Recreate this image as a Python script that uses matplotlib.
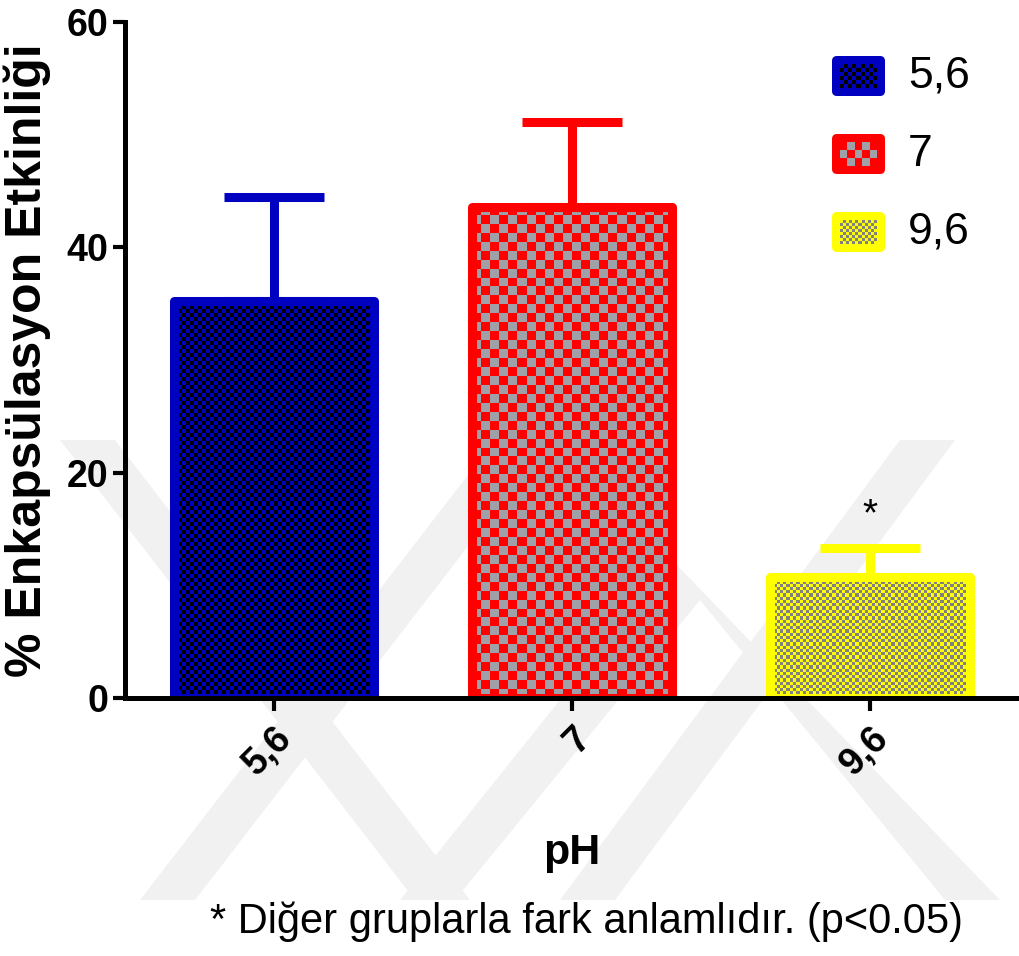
import numpy as np
import matplotlib
matplotlib.use('Agg')
from matplotlib import pyplot as plt
from matplotlib.patches import Rectangle, FancyBboxPatch, Polygon

# data
groups = ['5,6', '7', '9,6']
means = [35.2, 43.6, 10.7]
sems = [9.3, 7.5, 2.6]
edge_cols = ['#0000C0', '#FF0000', '#FFFF00']
cell_cols = ['#000000', '#A0A0A8', '#808080']
cell_px = [4.0, 9.0, 3.3]
y_ticks = [0, 20, 40, 60]
ylab = '% Enkapsülasyon Etkinliği'
xlab = 'pH'
note = '* Diğer gruplarla fark anlamlıdır. (p<0.05)'

W, H = 1019, 956
plt.rcParams['font.family'] = ['Liberation Sans', 'DejaVu Sans']
fig = plt.figure(figsize=(W / 100, H / 100), dpi=100)

# faint watermark bands behind everything (pixel coords)
bands = [
    [(60, 440), (115, 440), (470, 900), (415, 900)],
    [(140, 900), (195, 900), (550, 440), (495, 440)],
    [(400, 900), (455, 900), (700, 600), (672, 560)],
    [(672, 560), (700, 600), (945, 900), (1000, 900)],
    [(560, 900), (615, 900), (955, 440), (900, 440)],
]
for b in bands:
    fig.patches.append(Polygon([(x / W, 1 - y / H) for x, y in b], closed=True,
                               transform=fig.transFigure, fc='#F1F1F1', ec='none', zorder=-10))

ax = fig.add_axes([125 / W, 1 - 698 / H, (W - 125) / W, 676 / H])
ax.patch.set_alpha(0)

x = np.arange(len(groups))
bw = 0.67
px_x = (W - 125) / 3.0
px_y = 676 / 60.0


def checker(c1, c2, nr, nc):
    a = np.zeros((nr, nc, 3))
    m = (np.add.outer(np.arange(nr), np.arange(nc)) % 2) == 0
    a[m] = matplotlib.colors.to_rgb(c1)
    a[~m] = matplotlib.colors.to_rgb(c2)
    return a


for i in range(len(groups)):
    ax.errorbar(x[i], means[i], yerr=[[0], [sems[i]]], fmt='none', ecolor=edge_cols[i],
                elinewidth=6.5, capsize=36, capthick=6.5, zorder=2)
    r = Rectangle((x[i] - bw / 2, 0), bw, means[i], fc='none', ec=edge_cols[i], lw=6.5,
                  joinstyle='round', zorder=4)
    nc = int(round(bw * px_x / cell_px[i]))
    nr = max(1, int(round(means[i] * px_y / cell_px[i])))
    im = ax.imshow(checker(edge_cols[i], cell_cols[i], nr, nc),
                   extent=(x[i] - bw / 2, x[i] + bw / 2, 0, means[i]),
                   aspect='auto', interpolation='nearest', zorder=3)
    ax.add_patch(r)
    im.set_clip_path(r)

ax.annotate('*', (x[2], means[2] + sems[2]), xytext=(0, 24), textcoords='offset points',
            ha='center', va='center', fontsize=28)

ax.set_xlim(-0.5, 2.5)
ax.set_ylim(0, 60)
ax.set_yticks(y_ticks)
ax.set_xticks(x)
ax.set_xticklabels(groups, rotation=45, ha='right', rotation_mode='anchor')
for s in ['top', 'right']:
    ax.spines[s].set_visible(False)
for s in ['left', 'bottom']:
    ax.spines[s].set_linewidth(3.6)
    ax.spines[s].set_zorder(5)
ax.tick_params(axis='both', length=9, width=3, labelsize=27)
ax.tick_params(axis='y', pad=3)
ax.tick_params(axis='x', pad=7)
for t in ax.get_xticklabels() + ax.get_yticklabels():
    t.set_fontweight('bold')

ax.set_ylabel(ylab, fontsize=36, fontweight='bold', labelpad=11)
ax.set_xlabel(xlab, fontsize=31, fontweight='bold', labelpad=36)

# legend swatches
leg_y = [76, 154, 232]
leg_cells = [4.0, 7.5, 3.0]
for i in range(len(groups)):
    la = fig.add_axes([830 / W, 1 - (leg_y[i] + 22) / H, 57 / W, 44 / H])
    la.axis('off')
    la.add_patch(FancyBboxPatch((2, 2), 53, 40, boxstyle='round,pad=0,rounding_size=5',
                                fc=edge_cols[i], ec='none', zorder=1))
    nc = int(round(37 / leg_cells[i]))
    nr = int(round(24 / leg_cells[i]))
    la.imshow(checker(edge_cols[i], cell_cols[i], nr, nc), extent=(10, 47, 10, 34),
              aspect='auto', interpolation='nearest', zorder=2)
    la.set_xlim(0, 57)
    la.set_ylim(0, 44)
    fig.text(908 / W, 1 - leg_y[i] / H, groups[i], fontsize=32, va='center', ha='left')

fig.text(586 / W, 1 - 922 / H, note, fontsize=30, ha='center', va='center')

fig.savefig('out.png', dpi=100)
